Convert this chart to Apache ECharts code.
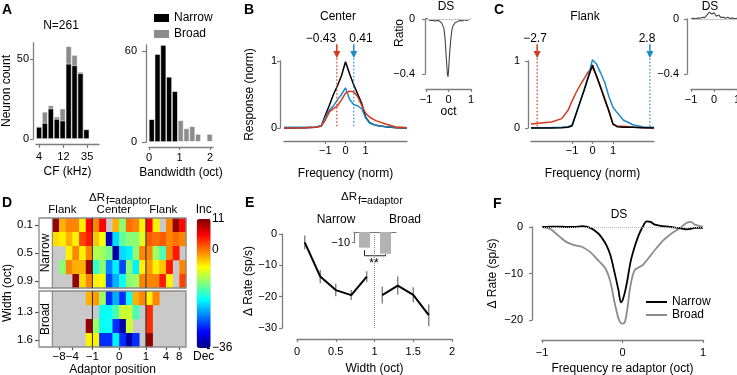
<!DOCTYPE html>
<html>
<head>
<meta charset="utf-8">
<script src="https://cdn.jsdelivr.net/npm/echarts@6/dist/echarts.min.js"></script>
<style>
  html, body { margin: 0; padding: 0; background: #fff; }
  #main { width: 737px; height: 375px; }
</style>
</head>
<body>
<div id="main"></div>
<script>
// ---------- data ----------
// A: CF histogram (bin centres in kHz, log axis) and bandwidth histogram
const cfBinKHz = [4, 5.2, 6.8, 8.9, 11.6, 15.2, 19.8, 25.9, 33.8];
const cfNarrow = [7.5, 10, 19, 12.5, 11.5, 47, 46, 41, 6];
const cfBroad = [0.5, 7, 2, 1.5, 7.5, 11, 6.5, 1, 0];
const cfTicks = [4, 12, 35];
const bwBins = [0.09, 0.28, 0.47, 0.66, 0.85, 1.04, 1.23, 1.42, 1.61, 1.8, 1.99];
const bwNarrow = [15, 58, 64, 43, 33.5, 0, 0, 0, 0, 0, 0];
const bwBroad = [0, 0, 0, 0, 0, 14.3, 9, 10.4, 5.3, 0, 5.3];

// B: center adaptor tuning curves (normalised)
const bFreq = [-3.05, -2, -1.5, -1.2, -1, -0.8, -0.6, -0.4, -0.2, 0, 0.2, 0.4, 0.6, 0.8, 1, 1.2, 1.5, 2, 2.5, 3.05];
const bControl = [0, 0.005, 0.01, 0.03, 0.19, 0.34, 0.5, 0.63, 0.78, 0.99, 0.81, 0.65, 0.51, 0.37, 0.16, 0.08, 0.04, 0.02, 0.005, 0];
const bLow = [0, 0.003, 0.01, 0.03, 0.12, 0.24, 0.29, 0.33, 0.42, 0.52, 0.55, 0.54, 0.47, 0.34, 0.22, 0.16, 0.11, 0.06, 0.015, 0.005];
const bHigh = [0.01, 0.01, 0.015, 0.03, 0.16, 0.27, 0.33, 0.42, 0.5, 0.6, 0.43, 0.35, 0.33, 0.29, 0.15, 0.07, 0.04, 0.02, 0.01, 0.005];
const bArrows = [-0.43, 0.41];
const dsX = [-1, -0.9, -0.8, -0.7, -0.6, -0.5, -0.4, -0.3, -0.2, -0.15, -0.1, -0.05, -0.02, 0, 0.05, 0.1, 0.15, 0.2, 0.3, 0.4, 0.5, 0.6, 0.7, 0.8, 0.9, 1];
const bDs = [0.005, -0.005, -0.01, -0.01, -0.015, -0.01, -0.015, -0.03, -0.07, -0.15, -0.28, -0.4, -0.42, -0.38, -0.25, -0.15, -0.08, -0.05, -0.025, -0.02, -0.01, -0.015, -0.005, -0.01, -0.005, 0];

// C: flank adaptor tuning curves
const cFreq = [-3, -2.5, -2, -1.5, -1.2, -1, -0.8, -0.6, -0.4, -0.2, 0, 0.2, 0.4, 0.6, 0.8, 1, 1.2, 1.5, 2, 2.5, 3];
const cControl = [0, 0, 0, 0.005, 0.01, 0.03, 0.21, 0.39, 0.57, 0.76, 0.94, 0.77, 0.6, 0.42, 0.25, 0.06, 0.02, 0.01, 0.01, 0.005, 0];
const cLow = [0.06, 0.075, 0.09, 0.14, 0.26, 0.4, 0.53, 0.64, 0.74, 0.84, 0.9, 0.78, 0.61, 0.44, 0.26, 0.05, 0.03, 0.025, 0.01, 0.005, 0.005];
const cHigh = [0.005, 0.005, 0.007, 0.01, 0.02, 0.04, 0.22, 0.4, 0.58, 0.78, 1.02, 0.95, 0.82, 0.68, 0.47, 0.31, 0.23, 0.12, 0.045, 0.015, 0.01];
const cArrows = [-2.7, 2.8];
const cDsX = [-1, -0.9, -0.8, -0.7, -0.6, -0.5, -0.4, -0.3, -0.2, -0.1, 0, 0.1, 0.2, 0.3, 0.4, 0.5, 0.6, 0.7, 0.8, 0.9, 1];
const cDs = [0, 0.005, 0.002, 0.008, 0.005, 0.012, 0.01, 0.03, 0.05, 0.035, 0.045, 0.02, 0.03, 0.01, 0.015, 0.005, 0.012, 0.003, 0.008, 0.002, 0.005];

// D: ΔR at f = adaptor, columns = adaptor position, rows = width (null = no data)
const heatNarrow = [
  [10, -3, -1, -1, -6, 5, -1, 5, null, -3, -12, 0, -1, -6, 5, -6, null, -1, 10, 5],
  [-5, -6, -3, -6, 2, 4, -4, -7, -33, -20, -14, -12, -12, -8, 1, 0, 1, -1, 0, -1],
  [null, null, -6, -1, -6, -1, -10, -11, -13, -34, -20, -19, -12, -1, -1, -11, -15, -1, 4, null],
  [null, -12, -1, -3, -3, 10, -16, -12, -24, -19, -27, -12, -19, -6, -2, -6, -4, 4, null, -1],
  [null, null, null, 10, -5, -1, -6, -7, -27, -22, -18, -12, -11, -1, -1, -1, 4, -6, null, 2]
];
const heatBroad = [
  [null, null, null, null, null, -3, -2, -11, -28, -22, -28, -18, -3, -1, -6, -1, null, null, null, null],
  [null, null, null, null, null, null, null, -18, -18, -15, -9, -9, -15, null, 3, null, null, null, null, null],
  [null, null, null, null, null, 10, -11, -18, -18, -28, -34, -9, null, null, 3, null, null, null, null, null],
  [null, null, null, null, null, -6, -6, -28, -28, -19, -28, -34, -28, null, 10, null, null, null, null, null]
];
const narrowRowLabels = ['0.1', '', '0.5', '', '0.9'];
const broadRowLabels = ['', '1.3', '', '1.6'];
const dTickPos = [1, 3, 6, 10, 14, 17, 19];
const dTickLabels = ['−8', '−4', '−1', '0', '1', '4', '8'];
const dHeaderPos = [1.5, 9.2, 16.6];
const dHeaderLabels = ['Flank', 'Center', 'Flank'];
const dDividers = [6, 14];
const cbMin = -36, cbMax = 11;

// E: ΔR vs width
const eNarrowW = [0.1, 0.3, 0.5, 0.7, 0.9];
const eNarrowR = [-2.7, -13.6, -17.9, -19.5, -13.6];
const eNarrowErr = [2.2, 2.1, 2.0, 1.6, 1.7];
const eBroadW = [1.1, 1.3, 1.5, 1.7];
const eBroadR = [-19.5, -16.5, -19.4, -25.9];
const eBroadErr = [2.7, 2.9, 2.4, 3.5];
const eGroupMean = [-14.7, -20.3];
const bracketX = [0, 0, 1, 1];
const bracketY = [-17, -22.2, -22.2, -20.8];

// F: DS
const fX = [-1, -0.9, -0.8, -0.7, -0.6, -0.5, -0.4, -0.3, -0.25, -0.2, -0.15, -0.1, -0.05, -0.02, 0, 0.03, 0.06, 0.1, 0.15, 0.2, 0.25, 0.3, 0.35, 0.4, 0.5, 0.6, 0.7, 0.8, 0.85, 0.9, 1];
const fNarrow = [0, 0.05, 0.1, 0, 0, 0.2, -0.2, -1.4, -2.5, -3.9, -6.1, -9.7, -13.6, -16.2, -15.8, -14, -11.5, -7.5, -4.3, -1.8, 0, 1.2, 1.1, 0.5, 0.2, 0, -0.2, -0.5, -0.4, -0.2, -0.2];
const fBroad = [0, -0.4, -1.8, -3.2, -3.9, -4.3, -5.4, -7.2, -8.1, -9.3, -11.8, -16.1, -19.7, -20.7, -20.8, -20.4, -17.6, -12.5, -9.3, -8.7, -8.2, -7.2, -6.1, -5.0, -3.0, -1.5, -0.4, 0.9, 1.1, 0.5, 0];

// ---------- helpers ----------
const FONT = '"Liberation Sans", Arial, sans-serif';
const AXC = '#7d7d7d';
const RED = '#d5381c';
const BLUE = '#1e8bc7';
const GREY = '#8c8c8c';
const JET = ['#00007f', '#0000ff', '#007fff', '#00ffff', '#7fff7f', '#ffff00', '#ff7f00', '#ff0000', '#7f0000'];

function merge(a, b) {
  for (const k in b) {
    if (b[k] && typeof b[k] === 'object' && !Array.isArray(b[k]) && a[k] && typeof a[k] === 'object') merge(a[k], b[k]);
    else a[k] = b[k];
  }
  return a;
}
const fmt = v => (v < 0 ? '−' : '') + Math.abs(v);
const pick = (pos, labels) => v => { const i = pos.findIndex(p => Math.abs(p - v) < 1e-6); return i < 0 ? '' : labels[i]; };

function vAxis(gridIndex, min, max, ticks, extra) {
  return merge({
    type: 'value', gridIndex, min, max,
    splitLine: { show: false },
    axisLine: { show: true, onZero: false, lineStyle: { color: AXC, width: 1.3 } },
    axisTick: { show: true, length: 3, customValues: ticks, lineStyle: { color: AXC, width: 1.2 } },
    axisLabel: { customValues: ticks, formatter: fmt, color: '#000', fontSize: 11, margin: 4, fontFamily: FONT },
    nameLocation: 'middle',
    nameTextStyle: { color: '#000', fontSize: 12, fontFamily: FONT }
  }, extra || {});
}
const hidden = (gridIndex) => ({ type: 'value', gridIndex, show: false });

function curve(name, grid, xs, ys, color, width, extra) {
  return merge({
    type: 'line', name, xAxisIndex: grid, yAxisIndex: grid,
    data: xs.map((x, i) => [x, ys[i]]),
    symbol: 'none', clip: false, silent: true,
    lineStyle: { color, width }, itemStyle: { color }
  }, extra || {});
}

function hist(name, grid, xs, ys, color, width) {
  return {
    type: 'bar', name, xAxisIndex: grid, yAxisIndex: grid, barWidth: width, barGap: '-100%', silent: true, clip: false,
    data: xs.map((x, i) => [x, ys[i]]), itemStyle: { color, borderColor: '#fff', borderWidth: 0.6 }
  };
}

// arrow above the curve pointing at the adaptor frequency, then a dotted drop line
function arrowSeries(grid, xs, colors) {
  return {
    type: 'custom', xAxisIndex: grid, yAxisIndex: grid, z: 4, silent: true,
    data: xs.map((x, i) => [x, i]), encode: { x: 0 },
    renderItem: (p, api) => {
      const x = api.value(0), color = colors[api.value(1)];
      const top = api.coord([x, 1.25]), head = api.coord([x, 1.15]), tip = api.coord([x, 1.04]), base = api.coord([x, 0]);
      return { type: 'group', children: [
        { type: 'line', shape: { x1: top[0], y1: top[1], x2: head[0], y2: head[1] + 1 }, style: { stroke: color, lineWidth: 1.5 } },
        { type: 'polygon', shape: { points: [[head[0] - 3.5, head[1]], [head[0] + 3.5, head[1]], [tip[0], tip[1]]] }, style: { fill: color } },
        { type: 'line', shape: { x1: tip[0], y1: tip[1], x2: base[0], y2: base[1] }, style: { stroke: color, lineWidth: 1.2, lineDash: [1.5, 2] } }
      ] };
    }
  };
}

function zeroLine(color, type) {
  return { silent: true, symbol: 'none', label: { show: false }, lineStyle: { color, width: 1, type }, data: [{ yAxis: 0 }] };
}

// heatmap helpers (custom series on value axes: columns 0..20, label strip at -2..0)
function bgSeries(grid, nRows) {
  return {
    type: 'custom', xAxisIndex: grid, yAxisIndex: grid, z: 1, silent: true, data: [[0, 0]],
    renderItem: (p, api) => {
      const a = api.coord([0, 0]), b = api.coord([20, nRows]);
      return { type: 'rect', shape: { x: a[0], y: a[1], width: b[0] - a[0], height: b[1] - a[1] }, style: { fill: '#c9c9c9' } };
    }
  };
}
function cellSeries(grid, rows) {
  const data = [];
  rows.forEach((row, r) => row.forEach((v, c) => { if (v !== null) data.push([c, r, v]); }));
  return {
    type: 'custom', xAxisIndex: grid, yAxisIndex: grid, z: 2, silent: true, data,
    encode: { x: 0, y: 1 },
    renderItem: (p, api) => {
      const a = api.coord([api.value(0), api.value(1)]);
      const b = api.coord([api.value(0) + 1, api.value(1) + 1]);
      return {
        type: 'rect',
        shape: { x: Math.min(a[0], b[0]), y: Math.min(a[1], b[1]), width: Math.abs(b[0] - a[0]) + 0.3, height: Math.abs(b[1] - a[1]) + 0.3 },
        style: { fill: api.visual('color') }
      };
    }
  };
}
function frameSeries(grid, nRows, label) {
  return {
    type: 'custom', xAxisIndex: grid, yAxisIndex: grid, z: 3, silent: true, data: [[0, 0]],
    renderItem: (p, api) => {
      const tl = api.coord([-2, 0]), br = api.coord([20, nRows]), c0 = api.coord([0, 0]);
      const kids = [
        { type: 'rect', shape: { x: tl[0], y: tl[1], width: br[0] - tl[0], height: br[1] - tl[1] }, style: { fill: 'none', stroke: '#8a8a8a', lineWidth: 1.3 } },
        { type: 'line', shape: { x1: c0[0], y1: tl[1], x2: c0[0], y2: br[1] }, style: { stroke: '#8a8a8a', lineWidth: 1.2 } }
      ];
      dDividers.forEach(d => {
        const q = api.coord([d, 0]);
        kids.push({ type: 'line', shape: { x1: q[0], y1: tl[1], x2: q[0], y2: br[1] }, style: { stroke: '#333', lineWidth: 1.1 } });
      });
      const mid = api.coord([-1, nRows / 2]);
      kids.push({ type: 'text', x: mid[0], y: mid[1], rotation: Math.PI / 2,
        style: { text: label, font: '12px ' + FONT, fill: '#000', align: 'center', verticalAlign: 'middle' } });
      return { type: 'group', children: kids };
    }
  };
}

function T(text, x, y, size, extra) {
  return merge({ type: 'text', x, y, silent: true,
    style: { text, fill: '#000', font: (size || 12) + 'px ' + FONT, align: 'center', verticalAlign: 'middle' } }, extra || {});
}
const L = (text, x, y) => T(text, x, y, 14, { style: { font: 'bold 14px ' + FONT, align: 'left', verticalAlign: 'top' } });

// ---------- option ----------
const grids = [
  [36, 43, 63, 96],     // 0 A CF
  [149, 45, 64, 97],    // 1 A bandwidth
  [284, 61, 123, 67],   // 2 B
  [426, 19, 45, 55],    // 3 B inset
  [531, 61, 123, 67],   // 4 C
  [691, 19, 46, 55],    // 5 C inset
  [39, 218, 147, 70],   // 6 D narrow
  [39, 291, 147, 56],   // 7 D broad
  [193, 219, 14, 129],  // 8 colour bar labels
  [297, 234, 155, 94],  // 9 E
  [354, 232, 42, 10.7], // 10 E inset
  [542, 227, 161, 93]   // 11 F
].map(g => ({ left: g[0], top: g[1], width: g[2], height: g[3], outerBoundsMode: 'none', containLabel: false }));

const xAxis = [
  vAxis(0, 1.8, 5.9, cfTicks.map(Math.log2), { offset: 5, name: 'CF (kHz)', nameGap: 22,
    axisTick: { length: 4 }, axisLabel: { formatter: v => String(Math.round(Math.pow(2, v))), margin: 7 } }),
  vAxis(1, 0, 2.1, [0, 1, 2], { offset: 5, name: 'Bandwidth (oct)', nameGap: 20, axisLabel: { margin: 5 } }),
  vAxis(2, -3.05, 3.05, [-1, 0, 1], { offset: 13, name: 'Frequency (norm)', nameGap: 27 }),
  vAxis(3, -1, 1, [-1, 0, 1], { offset: 15, name: 'oct', nameGap: 15, axisLabel: { margin: 5 } }),
  vAxis(4, -3, 3, [-1, 0, 1], { offset: 13, name: 'Frequency (norm)', nameGap: 27 }),
  vAxis(5, -1, 1, [-1, 0, 1], { offset: 15, axisLabel: { margin: 5 } }),
  vAxis(6, -2, 20, dHeaderPos, { position: 'top', axisLine: { show: false }, axisTick: { show: false },
    axisLabel: { formatter: pick(dHeaderPos, dHeaderLabels), margin: 2, fontSize: 11.5 } }),
  vAxis(7, -2, 20, dTickPos, { axisLine: { show: false }, axisTick: { length: 3, lineStyle: { color: '#555' } },
    axisLabel: { formatter: pick(dTickPos, dTickLabels), margin: 4, fontSize: 11.5 }, name: 'Adaptor position', nameGap: 16 }),
  hidden(8),
  vAxis(9, 0, 2, [0, 0.5, 1, 1.5, 2], { offset: 11, name: 'Width (oct)', nameGap: 24, axisLabel: { margin: 7 } }),
  vAxis(10, -0.5, 1.5, [], { position: 'top', axisTick: { show: false }, axisLabel: { show: false },
    axisLine: { lineStyle: { color: '#777', width: 1.2 } } }),
  vAxis(11, -1, 1, [-1, 0, 1], { offset: 20, name: 'Frequency re adaptor (oct)', nameGap: 23, axisLabel: { margin: 7 } })
];

const yAxis = [
  vAxis(0, 0, 60, [0, 50], { offset: 3, name: 'Neuron count', nameGap: 19 }),
  vAxis(1, 0, 64, [0, 60], { offset: 3, axisTick: { length: 4 }, axisLabel: { margin: 9 } }),
  vAxis(2, 0, 1, [0, 1], { offset: 4, name: 'Response (norm)', nameGap: 24, axisLabel: { margin: 3 } }),
  vAxis(3, -0.4, 0, [-0.4, 0], { offset: 1, axisLabel: { margin: 10 } }),
  vAxis(4, 0, 1, [0, 1], { offset: 3, axisLabel: { margin: 8 } }),
  vAxis(5, -0.4, 0, [-0.4, 0], { offset: 4, axisLabel: { margin: 8 } }),
  vAxis(6, 0, 5, [0.5, 2.5, 4.5], { inverse: true, axisLine: { show: false }, axisTick: { length: 4, lineStyle: { color: '#555' } },
    axisLabel: { formatter: v => narrowRowLabels[Math.floor(v)], margin: 6, fontSize: 11.5 } }),
  vAxis(7, 0, 4, [1.5, 3.5], { inverse: true, axisLine: { show: false }, axisTick: { length: 4, lineStyle: { color: '#555' } },
    axisLabel: { formatter: v => broadRowLabels[Math.floor(v)], margin: 6, fontSize: 11.5 } }),
  vAxis(8, cbMin, cbMax, [cbMax, 0, cbMin], { position: 'right', axisLine: { show: false },
    axisTick: { length: 3, lineStyle: { color: '#000' } }, axisLabel: { margin: 5, fontSize: 12 } }),
  vAxis(9, -30, 0, [-30, -20, -10, 0], { offset: 15, name: 'Δ Rate (sp/s)', nameGap: 24, axisLabel: { margin: 5 } }),
  vAxis(10, -10, 0, [-10], { axisTick: { length: 2 }, axisLabel: { margin: 4 }, axisLine: { lineStyle: { color: '#777', width: 1.2 } } }),
  vAxis(11, -20, 0, [-20, -10, 0], { offset: 10, name: 'Δ Rate (sp/s)', nameGap: 33, axisLabel: { margin: 9 } })
];

const eBars = eNarrowW.map((w, i) => [w, eNarrowR[i], eNarrowErr[i]])
  .concat(eBroadW.map((w, i) => [w, eBroadR[i], eBroadErr[i]]));
const cfLog = cfBinKHz.map(k => Math.log2(k));
const cfTotal = cfNarrow.map((n, i) => n + cfBroad[i]);   // broad counts sit on top of narrow counts

const series = [
  // A
  hist('Broad', 0, cfLog, cfTotal, GREY, 5.9),
  hist('Narrow', 0, cfLog, cfNarrow, '#000', 5.9),
  hist('Broad', 1, bwBins, bwBroad, GREY, 5.8),
  hist('Narrow', 1, bwBins, bwNarrow, '#000', 5.8),
  // B
  curve('bControl', 2, bFreq, bControl, '#000', 1.5),
  curve('bHigh', 2, bFreq, bHigh, BLUE, 1.5),
  curve('bLow', 2, bFreq, bLow, RED, 1.5),
  arrowSeries(2, bArrows, [RED, BLUE]),
  curve('bDs', 3, dsX, bDs, '#444', 1.1, { markLine: zeroLine('#c8c8c8', 'solid') }),
  // C
  curve('cLow', 4, cFreq, cLow, RED, 1.5),
  curve('cHigh', 4, cFreq, cHigh, BLUE, 1.5),
  curve('cControl', 4, cFreq, cControl, '#000', 1.5),
  arrowSeries(4, cArrows, [RED, BLUE]),
  curve('cDs', 5, cDsX, cDs, '#444', 1.1, { markLine: zeroLine('#c8c8c8', 'solid') }),
  // D (indices 14..19)
  bgSeries(6, 5), cellSeries(6, heatNarrow), frameSeries(6, 5, 'Narrow'),
  bgSeries(7, 4), cellSeries(7, heatBroad), frameSeries(7, 4, 'Broad'),
  // E
  curve('eNarrow', 9, eNarrowW, eNarrowR, '#000', 2, {
    markLine: { silent: true, symbol: 'none', label: { show: false }, lineStyle: { color: '#888', width: 1, type: 'dotted' }, data: [{ xAxis: 1 }] } }),
  curve('eBroad', 9, eBroadW, eBroadR, '#000', 2),
  { type: 'custom', xAxisIndex: 9, yAxisIndex: 9, silent: true, z: 3, data: eBars, encode: { x: 0, y: 1 },
    renderItem: (p, api) => {
      const x = api.value(0), m = api.value(1), e = api.value(2);
      const a = api.coord([x, m - e]), b = api.coord([x, m + e]);
      return { type: 'line', shape: { x1: a[0], y1: a[1], x2: b[0], y2: b[1] }, style: { stroke: '#808080', lineWidth: 1.4 } };
    } },
  { type: 'bar', name: 'eGroups', xAxisIndex: 10, yAxisIndex: 10, barWidth: 11, clip: false, silent: true,
    data: eGroupMean.map((v, i) => [i, v]), itemStyle: { color: '#b3b3b3' } },
  curve('bracket', 10, bracketX, bracketY, '#222', 1),
  // F
  curve('Narrow', 11, fX, fNarrow, '#000', 1.8, { smooth: 0.3, z: 4 }),
  curve('Broad', 11, fX, fBroad, GREY, 1.8, { smooth: 0.3, markLine: zeroLine('#bdbdbd', 'dotted') })
];

const option = {
  animation: false,
  backgroundColor: '#fff',
  textStyle: { fontFamily: FONT },
  grid: grids,
  xAxis,
  yAxis,
  series,
  visualMap: [{
    type: 'continuous', min: cbMin, max: cbMax, dimension: 2, seriesIndex: [15, 18],
    inRange: { color: JET }, left: 193, top: 204, itemWidth: 14, itemHeight: 129,
    text: ['Inc', 'Dec'], textGap: 3, padding: 0, calculable: false, hoverLink: false,
    textStyle: { fontSize: 12, color: '#000', fontFamily: FONT }
  }],
  legend: [
    { data: ['Narrow', 'Broad'], left: 154, top: 12, orient: 'vertical', icon: 'rect', itemWidth: 15, itemHeight: 8,
      itemGap: 4, padding: 0, selectedMode: false, itemStyle: { borderWidth: 0 },
      textStyle: { fontSize: 12, color: '#000', fontFamily: FONT } },
    { data: ['Narrow', 'Broad'], left: 646, top: 296, orient: 'vertical', icon: 'rect', itemWidth: 21, itemHeight: 2,
      itemGap: 1, padding: 0, selectedMode: false, itemStyle: { borderWidth: 0 },
      textStyle: { fontSize: 12, color: '#000', fontFamily: FONT } }
  ],
  graphic: [
    L('A', 2, 3), L('B', 244, 3), L('C', 494, 3), L('D', 2, 196), L('E', 245, 196), L('F', 493, 197),
    T('N=261', 61, 26),
    T('Center', 338, 17), T('Flank', 585, 17),
    T('DS', 446, 7), T('DS', 710, 7), T('DS', 619, 215),
    T('Ratio', 400, 33, 12, { rotation: Math.PI / 2 }),
    T('−0.43', 321, 39), T('0.41', 361, 39), T('−2.7', 535, 39), T('2.8', 647, 39),
    T('ΔR', 89, 197.5, 11.5, { style: { align: 'left' } }),
    T('f=adaptor', 106, 201.5, 10.5, { style: { align: 'left' } }),
    T('ΔR', 341, 197, 11.5, { style: { align: 'left' } }),
    T('f=adaptor', 358, 201, 10.5, { style: { align: 'left' } }),
    T('Width (oct)', 8, 293, 12, { rotation: Math.PI / 2 }),
    T('Narrow', 336, 220), T('Broad', 405, 220),
    T('**', 374, 264, 12)
  ]
};

const chart = echarts.init(document.getElementById('main'));
chart.setOption(option);
</script>
</body>
</html>
